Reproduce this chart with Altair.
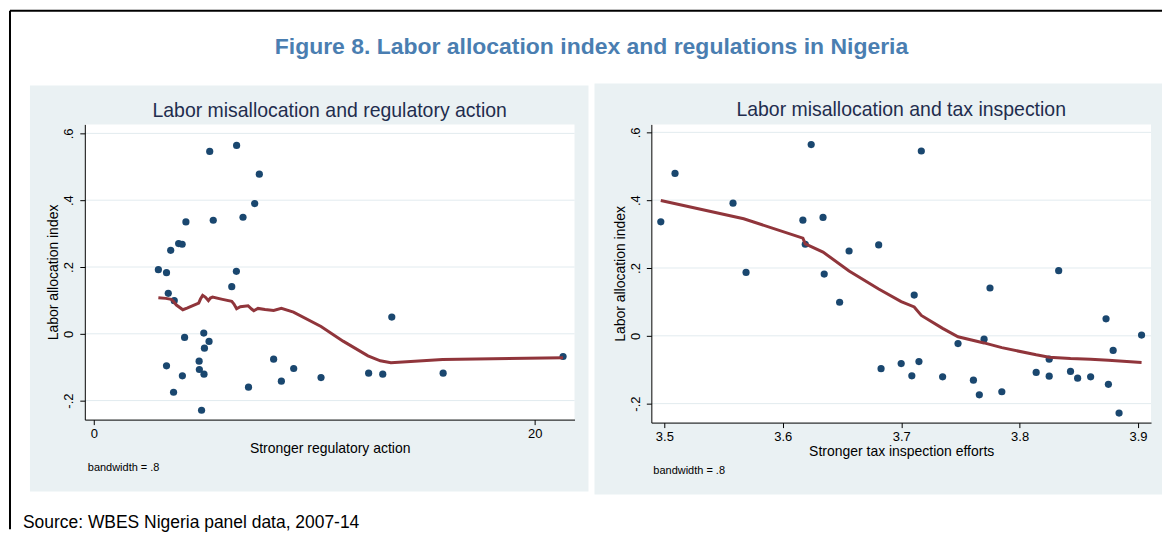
import altair as alt
import pandas as pd

# ---------------- data ----------------
reg_x = [2.93, 3.30, 3.38, 3.49, 3.65, 3.85, 4.01, 4.18, 4.12, 3.30, 3.62, 4.02,
         4.78, 4.79, 4.99, 5.02, 5.23, 5.00, 4.89, 5.26, 5.42, 6.26, 6.47, 6.48,
         6.77, 7.02, 7.30, 7.51, 8.16, 8.51, 9.07, 10.31, 12.47, 13.11, 13.52,
         15.85, 21.29]
reg_y = [0.192, 0.183, 0.121, 0.250, 0.099, 0.270, 0.268, 0.335, -0.011, -0.096,
         -0.175, -0.126, -0.082, -0.107, 0.002, -0.043, -0.023, -0.121, -0.229,
         0.546, 0.340, 0.141, 0.187, 0.564, 0.349, -0.160, 0.390, 0.478, -0.076,
         -0.142, -0.104, -0.131, -0.118, -0.121, 0.050, -0.118, -0.068]
reg_fit_x = [2.93, 3.27, 3.51, 3.59, 3.75, 4.04, 4.23, 4.76, 4.84, 4.94, 5.07,
             5.20, 5.29, 5.39, 5.84, 6.26, 6.36, 6.48, 6.65, 7.00, 7.16, 7.26,
             7.45, 7.77, 8.16, 8.51, 9.06, 10.31, 11.31, 12.44, 13.00, 13.48,
             15.82, 21.29]
reg_fit_y = [0.108, 0.106, 0.103, 0.099, 0.086, 0.072, 0.077, 0.092, 0.104, 0.115,
             0.109, 0.099, 0.107, 0.110, 0.103, 0.097, 0.089, 0.075, 0.081, 0.084,
             0.074, 0.069, 0.076, 0.073, 0.070, 0.076, 0.065, 0.022, -0.022,
             -0.066, -0.081, -0.087, -0.077, -0.072]

tax_x = [3.497, 3.509, 3.558, 3.569, 3.617, 3.619, 3.624, 3.634, 3.635, 3.648,
         3.656, 3.681, 3.683, 3.700, 3.709, 3.711, 3.715, 3.717, 3.735, 3.748,
         3.761, 3.766, 3.770, 3.775, 3.785, 3.814, 3.825, 3.825, 3.833, 3.843,
         3.849, 3.860, 3.873, 3.875, 3.879, 3.884, 3.903]
tax_y = [0.336, 0.479, 0.391, 0.187, 0.341, 0.270, 0.564, 0.349, 0.182, 0.099,
         0.250, 0.268, -0.097, -0.082, -0.118, 0.120, -0.076, 0.545, -0.121,
         -0.023, -0.131, -0.174, -0.010, 0.141, -0.165, -0.108, -0.119, -0.069,
         0.192, -0.105, -0.125, -0.121, 0.050, -0.143, -0.043, -0.228, 0.002]
tax_fit_x = [3.497, 3.567, 3.617, 3.619, 3.634, 3.656, 3.681, 3.700, 3.711, 3.717,
             3.735, 3.748, 3.770, 3.785, 3.814, 3.825, 3.843, 3.860, 3.875, 3.903]
tax_fit_y = [0.399, 0.345, 0.288, 0.271, 0.247, 0.191, 0.138, 0.101, 0.085, 0.060,
             0.022, -0.003, -0.021, -0.035, -0.056, -0.063, -0.067, -0.069,
             -0.072, -0.079]

y_ticks = [-0.2, 0, 0.2, 0.4, 0.6]
reg_x_ticks = [0, 20]
tax_x_ticks = [3.5, 3.6, 3.7, 3.8, 3.9]

main_title = "Figure 8. Labor allocation index and regulations in Nigeria"
left_title = "Labor misallocation and regulatory action"
right_title = "Labor misallocation and tax inspection"
left_xtitle = "Stronger regulatory action"
right_xtitle = "Stronger tax inspection efforts"
y_title = "Labor allocation index"
note_text = "bandwidth = .8"
source_text = "Source: WBES Nigeria panel data, 2007-14"

# ---------------- styling ----------------
FONT = "Liberation Sans, Arial, sans-serif"
PANEL_BG = "#EAF1F3"
GRID = "#E2EBEF"
DOT = "#1A476F"
FIT = "#90353B"
SUBTITLE = "#1F2D4E"
MAIN = "#4A7EB1"

one = pd.DataFrame({"d": [0]})
y_label_expr = ("datum.value == 0 ? '0' : (datum.value < 0 ? '-.' : '.') + "
                "format(abs(datum.value) * 10, '.0f')")


def deco_rect(x1, x2, y1, y2, color):
    return alt.Chart(one).mark_rect(color=color).encode(
        x=alt.value(x1), x2=alt.value(x2), y=alt.value(y1), y2=alt.value(y2))


def deco_text(txt, x, y, size, color="#000", font=FONT, weight="normal", align="left"):
    return alt.Chart(one).mark_text(
        text=txt, fontSize=size, font=font, fontWeight=weight, color=color,
        align=align, baseline="alphabetic").encode(x=alt.value(x), y=alt.value(y))


def panel(px, py, fx, fy, xdomain, ydomain, xticks, xfmt, w, h, xtitle,
          subtitle, gray, sub_y, note_xy, extras):
    pts = pd.DataFrame({"x": px, "y": py})
    fit = pd.DataFrame({"x": fx, "y": fy})
    grid = pd.DataFrame({"y": y_ticks})

    xs = alt.Scale(domain=xdomain, nice=False, zero=False)
    ys = alt.Scale(domain=ydomain, nice=False, zero=False)
    xaxis = alt.Axis(values=xticks, format=xfmt, grid=False, title=xtitle,
                     domainColor="#000", tickColor="#000", tickSize=5,
                     labelFont=FONT, labelFontSize=13, labelColor="#000",
                     labelPadding=3, labelFlush=False,
                     titleFont=FONT, titleFontSize=14, titleFontWeight="normal",
                     titleColor="#000", titlePadding=1, zindex=1)
    yaxis = alt.Axis(values=y_ticks, labelExpr=y_label_expr, grid=False, title=y_title,
                     domainColor="#000", tickColor="#000", tickSize=5,
                     labelFont=FONT, labelFontSize=13, labelColor="#000",
                     labelAngle=270, labelAlign="center", labelBaseline="bottom",
                     labelPadding=4, labelFlush=False,
                     titleFont=FONT, titleFontSize=14, titleFontWeight="normal",
                     titleColor="#000", titlePadding=2, zindex=1)
    X = alt.X("x:Q", scale=xs, axis=xaxis)
    Y = alt.Y("y:Q", scale=ys, axis=yaxis)

    layers = [
        deco_rect(gray[0], gray[1], gray[2], gray[3], PANEL_BG),
        deco_rect(0, w, 0, h, "#FFFFFF"),
        alt.Chart(grid).mark_rule(color=GRID, strokeWidth=1).encode(
            y=alt.Y("y:Q", scale=ys, axis=yaxis)),
        alt.Chart(pts).mark_circle(size=52, color=DOT, opacity=1).encode(x=X, y=Y),
        alt.Chart(fit).mark_line(color=FIT, strokeWidth=3).encode(x=X, y=Y),
        deco_text(subtitle, w / 2, sub_y, 19.5, color=SUBTITLE, align="center"),
        deco_text(note_text, note_xy[0], note_xy[1], 11),
    ] + extras
    return alt.layer(*layers).properties(width=w, height=h)


LW, LH = 491, 296
RW, RH = 501, 299

left_extras = [
    alt.Chart(one).mark_rule(color="#000", strokeWidth=2).encode(
        x=alt.value(-75), x2=alt.value(1080), y=alt.value(-114)),
    alt.Chart(one).mark_rule(color="#000", strokeWidth=2).encode(
        x=alt.value(-75), y=alt.value(-114), y2=alt.value(406)),
    deco_text(main_title, 508, -71, 23, color=MAIN, weight="bold", align="center"),
    deco_text(source_text, -62, 405, 17.5),
]

left = panel(reg_x, reg_y, reg_fit_x, reg_fit_y, [-0.407, 21.81], [-0.257, 0.627],
             reg_x_ticks, "d", LW, LH, left_xtitle, left_title,
             (-55, 505, -39, 368), -7, (3, 348), left_extras)
right = panel(tax_x, tax_y, tax_fit_x, tax_fit_y, [3.489, 3.911], [-0.256, 0.6235],
              tax_x_ticks, ".1f", RW, RH, right_xtitle, right_title,
              (-57, 512, -41, 371), -8, (2, 351), [])

chart = alt.hconcat(left, right, spacing=77, bounds="flush").properties(
    padding={"left": 0, "top": 0, "right": 0, "bottom": 0}
).configure_view(stroke=None).configure(background="#FFFFFF")

chart.save("out.html", embed_options={"renderer": "svg", "actions": False})
